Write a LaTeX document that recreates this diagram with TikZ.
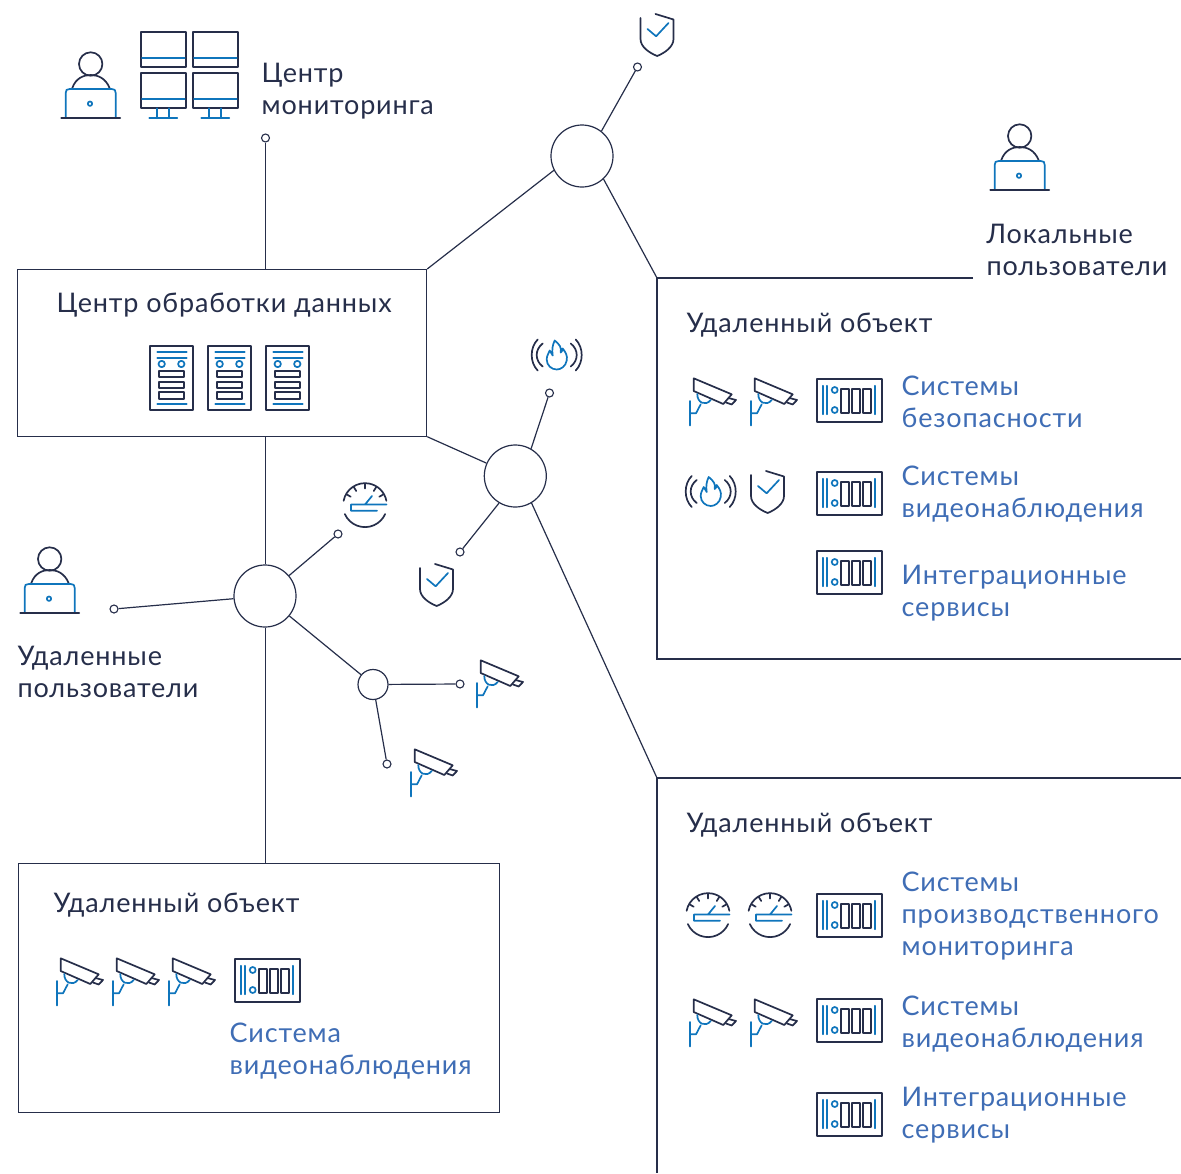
\documentclass[tikz,border=0pt]{standalone}
\usepackage{fontspec}
\setmainfont[LetterSpace=3.1]{Lato}
\definecolor{dk}{HTML}{262E4A}
\definecolor{bl}{HTML}{0F75BC}
\definecolor{tb}{HTML}{3F6DB5}
\tikzset{
 ln/.style={draw=dk,line width=1.2pt},
 dline/.style={draw=dk,line width=1.7pt,line cap=round,line join=round},
 bline/.style={draw=bl,line width=1.7pt,line cap=round,line join=round},
 hub/.style={circle,draw=dk,line width=1.2pt,fill=white,inner sep=0pt},
 term/.style={circle,draw=dk,line width=1.1pt,fill=white,inner sep=0pt,minimum size=8pt},
 lbl/.style={anchor=north west,align=left,inner sep=0pt,text=dk,font=\fontsize{27}{32}\selectfont},
 lblb/.style={lbl,text=tb},
 panel/.style={rectangle,draw=dk,line width=1.2pt,inner sep=0pt,anchor=north west},
 pics/camera/.style={code={
  \draw[dline] (3.7,0.3)--(41.7,16.3)--(33.3,26)--(3.7,13)--cycle;
  \draw[dline] (38.5,20)--(46,22)--(41.7,26.5)--(36,24.5);
  \draw[bline] (0,23)--(0,47.5) (0,35.3)--(6,35.3)--(10.7,26.3);
  \draw[bline] (7.3,16) .. controls (7,24) and (15,29) .. (20.7,22);
 }},
 pics/rack/.style={code={
  \draw[dline] (0,0) rectangle (65,43);
  \draw[bline] (5.7,6.7)--(5.7,35.3) (10.3,6.7)--(10.3,35.3) (58,6.7)--(58,35.3);
  \draw[bline] (17.7,11) circle (3) (17.7,31) circle (3);
  \draw[dline] (24,9.7) rectangle (32,34) (35,9.7) rectangle (43,34) (46,9.7) rectangle (54,34);
 }},
 pics/shield/.style={code={
  \draw[dline] (15,0)--(33,5.5)--(33,25) .. controls (33,33) and (24,39) .. (16.7,42) .. controls (9,39) and (0,33) .. (0,25)--(0,4);
  \draw[bline] (7,15)--(15.6,22.3)--(28,9);
 }},
 pics/fire/.style={code={
  \draw[dline] (-14,-11) .. controls (-22,-5) and (-22,6) .. (-14,12);
  \draw[dline] (-19,-15) .. controls (-27,-7) and (-27,8) .. (-19,16);
  \draw[dline] (14,-11) .. controls (22,-5) and (22,6) .. (14,12);
  \draw[dline] (19,-15) .. controls (27,-7) and (27,8) .. (19,16);
  \draw[bline] (-2,-14) .. controls (3,-10) and (5,-7) .. (4,-2) .. controls (6,-3) and (6,-5) .. (6,-6) .. controls (9,-2) and (11,1) .. (10,6) .. controls (9,12) and (4,15) .. (0,15) .. controls (-5,15) and (-10,11) .. (-10,5) .. controls (-10,1) and (-8,-1) .. (-7,-4) .. controls (-6,-2) and (-5,-1) .. (-4,1) .. controls (-5,-5) and (-4,-10) .. (-2,-14)--cycle;
 }},
 pics/gauge/.style={code={
  \draw[dline] (-21.4,-4.2) arc[start angle=191,end angle=349,radius=21.8];
  \draw[dline] (-20.2,9) arc[start angle=156,end angle=24,radius=22.1];
  \foreach \a in {90,122,58,150,30} \draw[dline] (-\a:21.5)--(-\a:16.5);
  \draw[bline] (21.5,-.5)--(-14,-.5)--(-14,5.7)--(12,5.7) (0,-.5)--(7,-9);
 }},
 pics/person/.style={code={
  \draw[dline] (0,0) circle (11.7);
  \draw[dline] (-18.5,24.3) .. controls (-15,14) and (-7,11) .. (0,11) .. controls (7,11) and (15,14) .. (19,24.3);
  \draw[bline] (-25,54)--(-25,29) .. controls (-25,26) and (-24,25) .. (-21,25)--(21,25) .. controls (24,25) and (25,26) .. (25,29)--(25,54);
  \draw[dline] (-29.5,54.3)--(29.5,54.3);
  \draw[bline] (-.7,39.7) circle (2.2);
 }},
 pics/server/.style={code={
  \draw[dline] (0,0) rectangle (43.3,64);
  \draw[bline] (7.3,5.7)--(36.7,5.7) (7.3,11.7)--(36.7,11.7) (7.3,57.7)--(36.7,57.7);
  \draw[bline] (11.7,18) circle (3.2) (31.3,18) circle (3.2);
  \draw[dline] (9.3,24.7) rectangle (34.3,31.3) (9.3,35.7) rectangle (34.3,42.3) (9.3,46.3) rectangle (34.3,53);
 }},
 pics/screen/.style={code={
  \draw[dline] (0,0) rectangle (44.7,35.3);
  \draw[bline] (1,26)--(43.7,26);
 }},
}
\begin{document}
\begin{tikzpicture}[x=1pt,y=-1pt]
\useasboundingbox (0,0) rectangle (1181,1173);
% panels
\node[panel,minimum width=409pt,minimum height=166.5pt] (dc) at (17,269) {};
\node[panel,minimum width=481pt,minimum height=249pt] (objA) at (18,862.5) {};
\coordinate (p1a) at (973,278);
\coordinate (p1b) at (657,278);
\coordinate (p1c) at (657,659);
\coordinate (p1d) at (1181,659);
\coordinate (p2a) at (1181,778);
\coordinate (p2b) at (657,778);
\coordinate (p2c) at (657,1173);
\draw[ln] (p1a)--(p1b)--(p1c)--(p1d);
\draw[ln] (p2a)--(p2b)--(p2c);
% hubs and terminals
\node[hub,minimum size=62pt] (h1) at (582,156) {};
\node[hub,minimum size=62pt] (h2) at (515.3,476) {};
\node[hub,minimum size=62pt] (h3) at (265,596) {};
\node[hub,minimum size=30pt] (h4) at (373,684.5) {};
\node[term] (t0) at (265.5,138) {};
\node[term] (t1) at (637.5,67) {};
\node[term] (t2) at (549.5,393) {};
\node[term] (t3) at (460,552) {};
\node[term] (t4) at (338,534) {};
\node[term] (t5) at (114,609) {};
\node[term] (t6) at (460,684) {};
\node[term] (t7) at (387,764) {};
% connectors
\draw[ln] (t0)--(t0|-dc.north);
\draw[ln] (h1.52)--(t1);
\draw[ln] (h1.-153)--(dc.north east);
\draw[ln] (h1.-47)--(p1b);
\draw[ln] (h2.60)--(t2);
\draw[ln] (h2.-121)--(t3);
\draw[ln] (h2)--(dc.south east);
\draw[ln] (h2.-59)--(p2b);
\draw[ln] (t0|-h3.south)--(t0|-objA.north);
\draw[ln] (t0|-h3.north)--(t0|-dc.south);
\draw[ln] (h3)--(t4);
\draw[ln] (h3)--(t5);
\draw[ln] (h3)--(h4);
\draw[ln] (h4)--(t6);
\draw[ln] (h4)--(t7);
% icons
\pic at (90.7,64) {person};
\pic at (1019.7,136) {person};
\pic at (49.7,559) {person};
\pic at (141,32) {screen};
\pic at (193,32) {screen};
\pic at (141,73) {screen};
\pic at (193,73) {screen};
\foreach \x in {0,52} {
 \draw[bline] (157.3+\x,108.3)--(157.3+\x,118.3) (168.7+\x,108.3)--(168.7+\x,118.3) (149.3+\x,118.3)--(177.3+\x,118.3);
}
\foreach \x in {150,208,266} \pic at (\x,346) {server};
\foreach \p in {(690,378),(751,378),(690,999),(751,999),(57,958),(113,958),(169,958),(477,660),(411,749)} \pic at \p {camera};
\foreach \p in {(817,379),(817,472),(817,551),(817,894),(817,999),(817,1093),(235,959)} \pic at \p {rack};
\foreach \p in {(751,471),(640.5,14),(420,564)} \pic at \p {shield};
\foreach \p in {(710.7,491),(556.7,354.5)} \pic at \p {fire};
\foreach \p in {(708,915),(770,915),(365,505)} \pic at \p {gauge};
% labels
\node[lbl] (l1) at (261.5,59.5) {\strut Центр\\мониторинга};
\node[lbl] (l2) at (986.5,220.5) {\strut Локальные\\пользователи};
\node[lbl] (l3) at (56.5,289.5) {\strut Центр обработки данных};
\node[lbl] (l4) at (17.5,642.5) {\strut Удаленные\\пользователи};
\node[lbl] (l5) at (686.5,309.5) {\strut Удаленный объект};
\node[lbl] (l6) at (686.5,809.5) {\strut Удаленный объект};
\node[lbl] (l7) at (53.5,889.5) {\strut Удаленный объект};
\node[lblb] (b1) at (901.5,372.5) {\strut Системы\\безопасности};
\node[lblb] (b2) at (901.5,462.5) {\strut Системы\\видеонаблюдения};
\node[lblb] (b3) at (901.5,561.5) {\strut Интеграционные\\сервисы};
\node[lblb] (b4) at (901.5,868.5) {\strut Системы\\производственного\\мониторинга};
\node[lblb] (b5) at (901.5,992.5) {\strut Системы\\видеонаблюдения};
\node[lblb] (b6) at (901.5,1083.5) {\strut Интеграционные\\сервисы};
\node[lblb] (b7) at (229.5,1019.5) {\strut Система\\видеонаблюдения};
\end{tikzpicture}
\end{document}
